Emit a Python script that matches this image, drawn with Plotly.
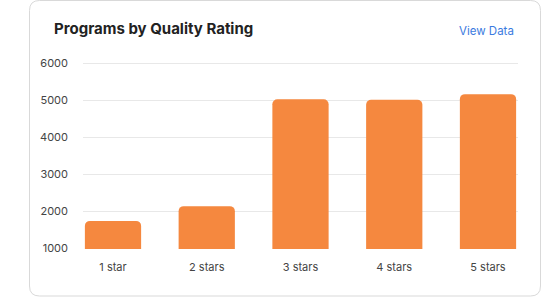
import plotly.graph_objects as go

categories = ["1 star", "2 stars", "3 stars", "4 stars", "5 stars"]
programs = [1740, 2140, 5030, 5020, 5170]
y_ticks = [1000, 2000, 3000, 4000, 5000, 6000]

W, H = 546, 297
L, R, T, B = 83, 28, 62, 48
pw, ph = W - L - R, H - T - B


def px(x):
    return (x - L) / pw


def py(y):
    return (H - B - y) / ph


def rounded_rect(x0, y0, x1, y1, r):
    return (
        f"M {px(x0 + r)} {py(y0)} L {px(x1 - r)} {py(y0)} "
        f"Q {px(x1)} {py(y0)} {px(x1)} {py(y0 + r)} "
        f"L {px(x1)} {py(y1 - r)} "
        f"Q {px(x1)} {py(y1)} {px(x1 - r)} {py(y1)} "
        f"L {px(x0 + r)} {py(y1)} "
        f"Q {px(x0)} {py(y1)} {px(x0)} {py(y1 - r)} "
        f"L {px(x0)} {py(y0 + r)} "
        f"Q {px(x0)} {py(y0)} {px(x0 + r)} {py(y0)} Z"
    )


fig = go.Figure(
    go.Bar(
        x=list(range(len(categories))),
        y=programs,
        width=0.6,
        marker=dict(color="#F5883F", cornerradius=5, line=dict(width=0)),
        hovertemplate="%{y}<extra></extra>",
    )
)

fig.update_layout(
    width=W,
    height=H,
    margin=dict(l=L, r=R, t=T, b=B, pad=0),
    paper_bgcolor="white",
    plot_bgcolor="white",
    showlegend=False,
    font=dict(family="Inter, Roboto, sans-serif", color="#444", size=11),
    shapes=[
        dict(
            type="path",
            xref="paper",
            yref="paper",
            path=rounded_rect(29.5, 0.5, 540.5, 296, 10),
            line=dict(color="#d9d9d9", width=1),
            fillcolor="rgba(0,0,0,0)",
            layer="below",
        )
    ],
    annotations=[
        dict(
            text="<b>Programs by Quality Rating</b>",
            xref="paper",
            yref="paper",
            x=px(52),
            y=py(29),
            xanchor="left",
            yanchor="middle",
            showarrow=False,
            font=dict(size=15, color="#222", family="Inter, sans-serif"),
        ),
        dict(
            text="View Data",
            xref="paper",
            yref="paper",
            x=px(516),
            y=py(31),
            xanchor="right",
            yanchor="middle",
            showarrow=False,
            font=dict(size=11.5, color="#3b7be0", family="Inter, sans-serif"),
        ),
    ],
)

fig.update_xaxes(
    tickmode="array",
    tickvals=list(range(len(categories))),
    ticktext=categories,
    range=[-0.32, len(categories) - 1 + 0.32],
    showgrid=False,
    zeroline=False,
    showline=False,
    ticks="",
    ticklabelstandoff=10,
    tickfont=dict(size=11, color="#444"),
    fixedrange=True,
)
fig.update_yaxes(
    range=[y_ticks[0] - 20, y_ticks[-1] + 40],
    tickmode="array",
    tickvals=y_ticks,
    ticktext=[str(v) for v in y_ticks],
    showgrid=True,
    gridcolor="#e8e8e8",
    gridwidth=1,
    zeroline=False,
    showline=False,
    ticks="",
    ticklabelstandoff=14,
    tickfont=dict(size=11, color="#444"),
    fixedrange=True,
)

fig.write_html("out.html", config={"displayModeBar": False})
